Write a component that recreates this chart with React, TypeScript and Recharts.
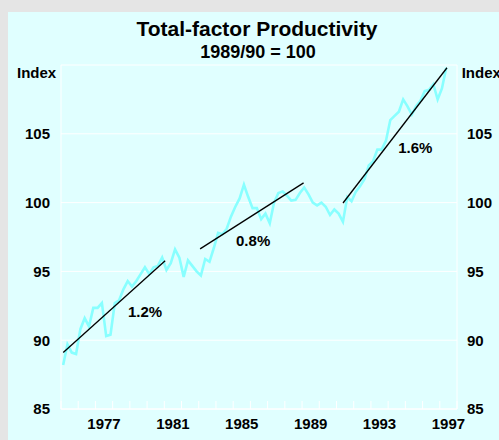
import React from 'react';
import {
  ComposedChart,
  Line,
  XAxis,
  YAxis,
  CartesianGrid,
  ReferenceLine,
  ReferenceDot,
} from 'recharts';

// Quarterly index values, 1975 Q1 .. 1997 Q2 (1989/90 = 100)
const startYear = 1975;
const productivity: number[] = [
  88.2, 89.7, 89.1, 89.0,
  90.8, 91.6, 91.0, 92.35,
  92.35, 92.7, 90.3, 90.4,
  92.7, 92.9, 93.7, 94.3,
  93.9, 94.3, 94.8, 95.3,
  94.8, 95.3, 95.4, 96.0,
  95.1, 95.6, 96.6, 96.0,
  94.6, 95.8, 95.4, 95.0,
  94.7, 95.9, 95.7, 96.7,
  97.8, 97.7, 98.1, 99.0,
  99.7, 100.3, 101.3, 100.4,
  99.6, 99.6, 98.8, 99.2,
  98.5, 100.0, 100.7, 100.8,
  100.5, 100.15, 100.2, 100.7,
  101.1, 100.6, 100.0, 99.8,
  100.0, 99.7, 99.1, 99.5,
  99.2, 98.6, 100.4, 100.1,
  100.8, 101.2, 101.7, 102.7,
  103.0, 103.85, 103.85, 104.5,
  106.0, 106.3, 106.6, 107.5,
  107.0, 106.4, 107.0, 107.4,
  108.1, 108.2, 108.6, 107.5,
  108.3, 109.8,
];

// Trend segments (start / end points) and their growth-rate labels
const trendStart = [
  { x: 1975.13, y: 89.1 },
  { x: 1983.08, y: 96.64 },
  { x: 1991.38, y: 99.97 },
];
const trendEnd = [
  { x: 1981.05, y: 95.77 },
  { x: 1989.09, y: 101.43 },
  { x: 1997.42, y: 109.8 },
];
const trendLabels = ['1.2%', '0.8%', '1.6%'];
const trendLabelAt = [
  { x: 1979.88, y: 92.08 },
  { x: 1986.16, y: 97.25 },
  { x: 1995.58, y: 103.97 },
];

const yTicks = [85, 90, 95, 100, 105, 110];
const yearTicks = Array.from({ length: 24 }, (_, i) => startYear + i);
const yearLabelTicks = [1977.5, 1981.5, 1985.5, 1989.5, 1993.5, 1997.5];

const data = productivity.map((v, i) => ({
  t: startYear + (i + 0.5) / 4,
  v,
}));

const FONT = '"Liberation Sans", Arial, Helvetica, sans-serif';
const tickStyle = { fill: '#000', fontSize: 15, fontWeight: 'bold', fontFamily: FONT };

export default function App() {
  return (
    <div
      style={{
        position: 'absolute',
        left: 0,
        top: 0,
        width: 499,
        height: 440,
        background: '#e5e5e5',
        overflow: 'hidden',
      }}
    >
      <div
        style={{
          position: 'absolute',
          left: 8,
          top: 12,
          width: 491,
          height: 428,
          background: '#e0ffff',
        }}
      >
        <ComposedChart
          width={491}
          height={428}
          data={data}
          margin={{ top: 53, right: 0, bottom: 0, left: 0 }}
          style={{ fontFamily: FONT }}
        >
          <CartesianGrid horizontal vertical={false} stroke="#ffffff" strokeWidth={1} />
          <XAxis
            dataKey="t"
            type="number"
            domain={[1975, 1998]}
            ticks={yearLabelTicks}
            tickFormatter={(v: number) => String(Math.floor(v))}
            tickLine={false}
            axisLine={false}
            tickSize={0}
            tickMargin={9}
            height={31}
            tick={tickStyle}
            interval={0}
            allowDataOverflow
          />
          <XAxis
            xAxisId="minor"
            dataKey="t"
            type="number"
            domain={[1975, 1998]}
            ticks={yearTicks}
            mirror
            tickFormatter={() => ''}
            tick={{ fontSize: 1, fill: 'none' }}
            tickLine={{ stroke: '#ffffff', strokeWidth: 1 }}
            tickSize={8}
            axisLine={{ stroke: '#ffffff', strokeWidth: 1 }}
            height={8}
            interval={0}
            allowDataOverflow
          />
          <YAxis
            type="number"
            domain={[85, 110]}
            ticks={yTicks}
            tickFormatter={(v: number) => (v === 110 ? '' : String(v))}
            width={53}
            tickLine={false}
            tickSize={0}
            tickMargin={11}
            axisLine={{ stroke: '#ffffff', strokeWidth: 1 }}
            tick={tickStyle}
            interval={0}
            allowDataOverflow
          />
          <YAxis
            yAxisId="right"
            orientation="right"
            type="number"
            domain={[85, 110]}
            ticks={yTicks}
            tickFormatter={(v: number) => (v === 110 ? '' : String(v))}
            width={42}
            tickLine={false}
            tickSize={0}
            tickMargin={10}
            axisLine={{ stroke: '#ffffff', strokeWidth: 1 }}
            tick={tickStyle}
            interval={0}
            allowDataOverflow
          />
          <Line
            dataKey="v"
            type="linear"
            stroke="#88ffff"
            strokeWidth={2.6}
            dot={false}
            isAnimationActive={false}
          />
          {trendStart.map((s, i) => (
            <ReferenceLine
              key={'tr' + i}
              segment={[s, trendEnd[i]]}
              stroke="#000000"
              strokeWidth={1.3}
              ifOverflow="visible"
            />
          ))}
          {trendLabelAt.map((p, i) => (
            <ReferenceDot
              key={'tl' + i}
              x={p.x}
              y={p.y}
              r={0}
              ifOverflow="visible"
              shape={(props: any) => (
                <text
                  x={props.cx}
                  y={props.cy}
                  textAnchor="middle"
                  dominantBaseline="central"
                  fill="#000"
                  fontSize={15}
                  fontWeight="bold"
                  fontFamily={FONT}
                >
                  {trendLabels[i]}
                </text>
              )}
            />
          ))}
        </ComposedChart>
        <svg
          width={491}
          height={428}
          style={{ position: 'absolute', left: 0, top: 0, pointerEvents: 'none' }}
        >
          <text x={249} y={23.5} textAnchor="middle" fontSize={21} fontWeight="bold" fontFamily={FONT} fill="#000">
            Total-factor Productivity
          </text>
          <text x={250} y={46.3} textAnchor="middle" fontSize={18} fontWeight="bold" fontFamily={FONT} fill="#000">
            1989/90 = 100
          </text>
          <text x={9} y={66.3} fontSize={15} fontWeight="bold" fontFamily={FONT} fill="#000">
            Index
          </text>
          <text x={453.7} y={66.3} fontSize={15} fontWeight="bold" fontFamily={FONT} fill="#000">
            Index
          </text>
        </svg>
      </div>
    </div>
  );
}
